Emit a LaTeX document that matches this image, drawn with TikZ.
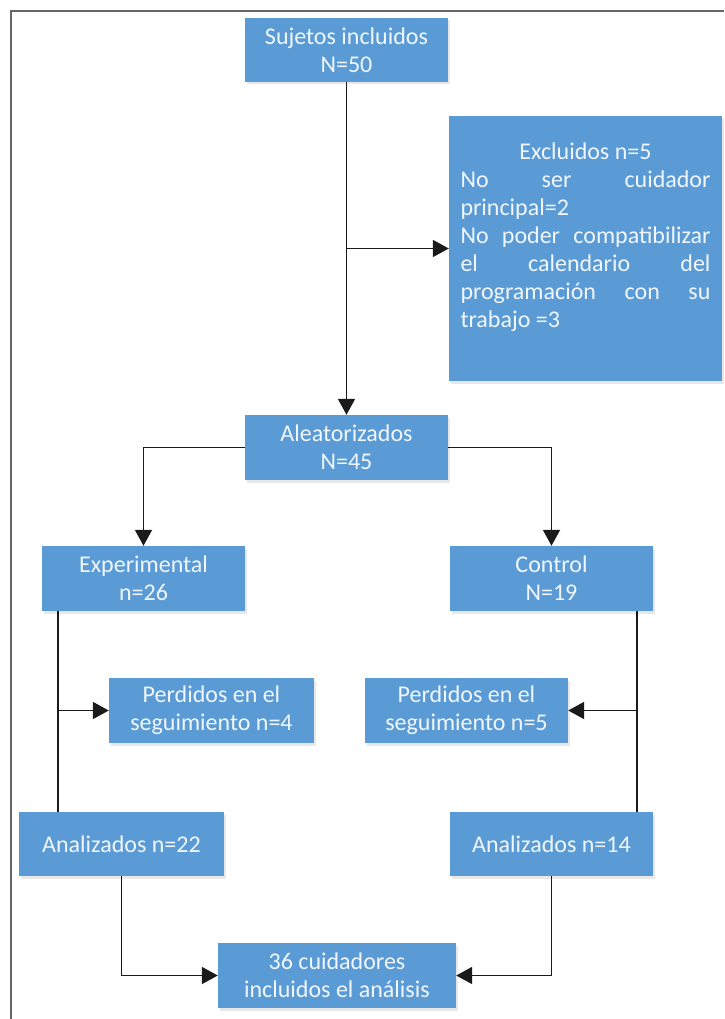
\documentclass[tikz,border=0pt]{standalone}
\usepackage{fontspec}
\setmainfont{Carlito}
\usetikzlibrary{arrows.meta,calc,shadows}
\definecolor{boxblue}{HTML}{5B9BD5}
\definecolor{boxtext}{HTML}{F0F6FC}
\definecolor{linegray}{HTML}{1A1A1A}
\definecolor{framegray}{HTML}{666666}
\begin{document}
\begin{tikzpicture}[x=1pt,y=-1pt,
  box/.style={draw=none, fill=boxblue, text=boxtext, inner sep=0pt, align=center,
    font=\fontsize{24}{28}\selectfont,
    drop shadow={shadow xshift=1.5pt, shadow yshift=-2.5pt, opacity=0.18}},
  conn/.style={draw=linegray, line width=1.9pt},
  arr/.style={conn, -{Triangle[length=16pt,width=17pt]}}
]
\useasboundingbox (0,0) rectangle (724,1019);
\draw[framegray, line width=2pt] (10.5,1019) -- (10.5,11.5) -- (724,11.5);

\node[box, minimum width=203pt, minimum height=64pt] (suj) at (346.5,50) {Sujetos incluidos\\N=50};
\node[box, minimum width=273pt, minimum height=265pt] (excl) at (585.5,248.5) {%
  \parbox[c][211pt][t]{250pt}{%
    \makebox[250pt][c]{Excluidos n=5}\\
    \makebox[250pt][s]{No ser cuidador}\\
    principal=2\\
    \makebox[250pt][s]{No poder compatibilizar}\\
    \makebox[250pt][s]{el calendario del}\\
    \makebox[250pt][s]{programación con su}\\
    trabajo =3}};
\node[box, minimum width=203pt, minimum height=65pt] (alea) at (346.5,447.5) {Aleatorizados\\N=45};
\node[box, minimum width=203pt, minimum height=65pt] (exp) at (143.5,578.5) {Experimental\\n=26};
\node[box, minimum width=203pt, minimum height=65pt] (ctrl) at (551.5,578.5) {Control\\N=19};
\node[box, minimum width=205pt, minimum height=65pt] (perd1) at (211.5,710.5) {Perdidos en el\\seguimiento n=4};
\node[box, minimum width=203pt, minimum height=65pt] (perd2) at (466.5,710.5) {Perdidos en el\\seguimiento n=5};
\node[box, minimum width=205pt, minimum height=64pt] (ana1) at (121.5,844) {Analizados n=22};
\node[box, minimum width=203pt, minimum height=64pt] (ana2) at (551.5,844) {Analizados n=14};
\node[box, minimum width=238pt, minimum height=65pt] (fin) at (337,975.5) {36 cuidadores\\incluidos el análisis};

\draw[arr] (suj.south) -- (alea.north);
\draw[arr] (suj.south |- excl.west) -- (excl.west);
\draw[arr] (alea.west) -| (exp.north);
\draw[arr] (alea.east) -| (ctrl.north);
\coordinate (el) at ($(exp.south west)+(16,0)$);
\draw[conn] (el) -- (el |- ana1.north);
\draw[arr] (el |- perd1.west) -- (perd1.west);
\coordinate (er) at ($(ctrl.south east)+(-16,0)$);
\draw[conn] (er) -- (er |- ana2.north);
\draw[arr] (er |- perd2.east) -- (perd2.east);
\draw[arr] (ana1.south) |- (fin.west);
\draw[arr] (ana2.south) |- (fin.east);
\end{tikzpicture}
\end{document}
